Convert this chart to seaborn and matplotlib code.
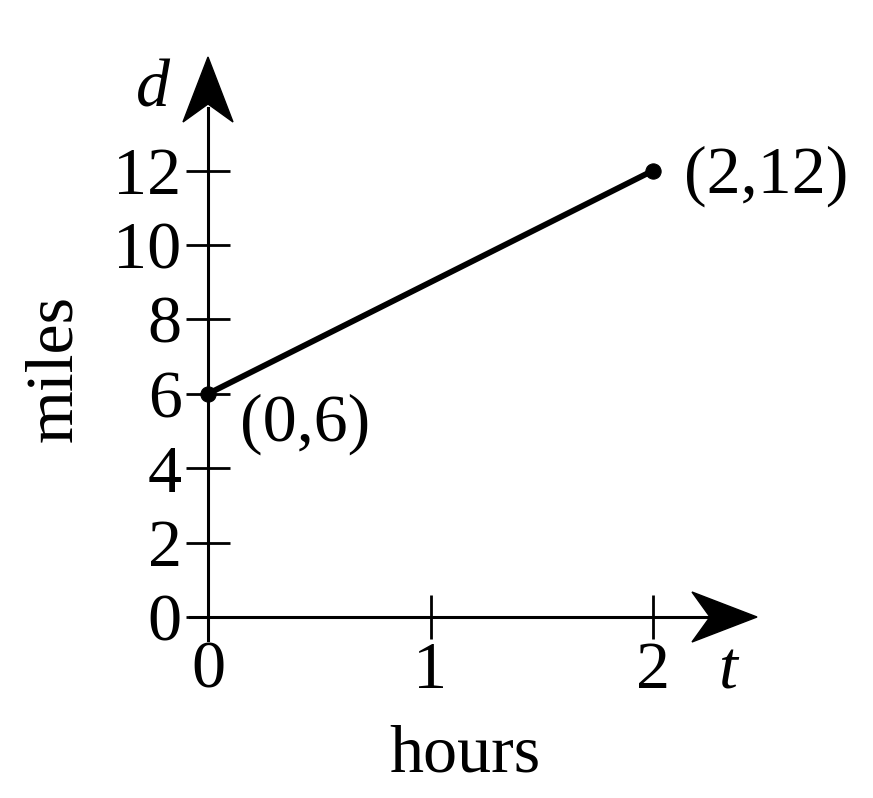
import matplotlib
matplotlib.use("Agg")
import matplotlib.pyplot as plt
from matplotlib.patches import Polygon
import seaborn as sns
import pandas as pd

# data
hours = [0, 2]
miles = [6, 12]
point_labels = ["(0,6)", "(2,12)"]
x_ticks = [0, 1, 2]
y_ticks = [0, 2, 4, 6, 8, 10, 12]

sns.set_theme(style="white")
plt.rcParams["font.family"] = ["Liberation Serif", "DejaVu Serif"]
plt.rcParams["text.color"] = "black"

W, H = 873, 798
fig = plt.figure(figsize=(W / 100, H / 100), dpi=100)
ax = fig.add_axes([0, 0, 1, 1])
ax.set_facecolor("white")

# pixel mapping of the reference
x0px, xs = 208, 222.5   # px of t=0, px per hour
y0px, ys = 617, 37.2    # px (from top) of d=0, px per mile
ax.set_xlim(-x0px / xs, (W - x0px) / xs)
ax.set_ylim(-(H - y0px) / ys, y0px / ys)

df = pd.DataFrame({"hours": hours, "miles": miles})
sns.lineplot(data=df, x="hours", y="miles", ax=ax, color="black", lw=4.2,
             marker="o", markersize=11, markeredgecolor="black", zorder=5)

# axes through origin
for s in ["top", "right"]:
    ax.spines[s].set_visible(False)
for s in ["left", "bottom"]:
    ax.spines[s].set_position(("data", 0))
    ax.spines[s].set_linewidth(2.2)
    ax.spines[s].set_color("black")
ax.spines["left"].set_bounds(-23 / ys, (y0px - 108) / ys)
ax.spines["bottom"].set_bounds(-18 / xs, (708 - x0px) / xs)

ax.set_xticks(x_ticks)
ax.set_yticks(y_ticks)
ax.set_xticklabels([str(v) for v in x_ticks])
ax.set_yticklabels([str(v) for v in y_ticks])
ax.tick_params(axis="both", which="major", bottom=True, left=True,
               direction="inout", length=32, width=2,
               color="black", labelsize=49, labelcolor="black")
ax.tick_params(axis="y", pad=3)
ax.tick_params(axis="x", pad=1)
ax.set_xlabel("")
ax.set_ylabel("")

# arrowheads (decoration)
def arrow_up(tip_px, base_px, half_w_px, notch_px):
    tip = (y0px - tip_px) / ys
    base = (y0px - base_px) / ys
    notch = (y0px - notch_px) / ys
    hw = half_w_px / xs
    return Polygon([(0, tip), (-hw, base), (0, notch), (hw, base)],
                   closed=True, color="black", zorder=6)

def arrow_right(tip_px, base_px, half_h_px, notch_px):
    tip = (tip_px - x0px) / xs
    base = (base_px - x0px) / xs
    notch = (notch_px - x0px) / xs
    hh = half_h_px / ys
    return Polygon([(tip, 0), (base, hh), (notch, 0), (base, -hh)],
                   closed=True, color="black", zorder=6)

ax.add_patch(arrow_up(57, 122, 25, 104))
ax.add_patch(arrow_right(757, 692, 25, 710))

fs = 49
ax.text(-55 / xs, (y0px - 90) / ys, "d", fontsize=fs, style="italic",
        ha="center", va="center", color="black")
ax.text((727 - x0px) / xs, (y0px - 672) / ys, "t", fontsize=fs, style="italic",
        ha="center", va="center", color="black")
ax.text((465 - x0px) / xs, (y0px - 755) / ys, "hours", fontsize=fs,
        ha="center", va="center", color="black")
ax.text((55 - x0px) / xs, (y0px - 368) / ys, "miles", fontsize=fs,
        rotation=90, ha="center", va="center", color="black")

ax.annotate(point_labels[0], (hours[0], miles[0]), xytext=(32, -30),
            textcoords="offset pixels", fontsize=fs, ha="left", va="center",
            color="black")
ax.annotate(point_labels[1], (hours[1], miles[1]), xytext=(31, -6),
            textcoords="offset pixels", fontsize=fs, ha="left", va="center",
            color="black")

fig.savefig("out.png", dpi=100, facecolor="white")
